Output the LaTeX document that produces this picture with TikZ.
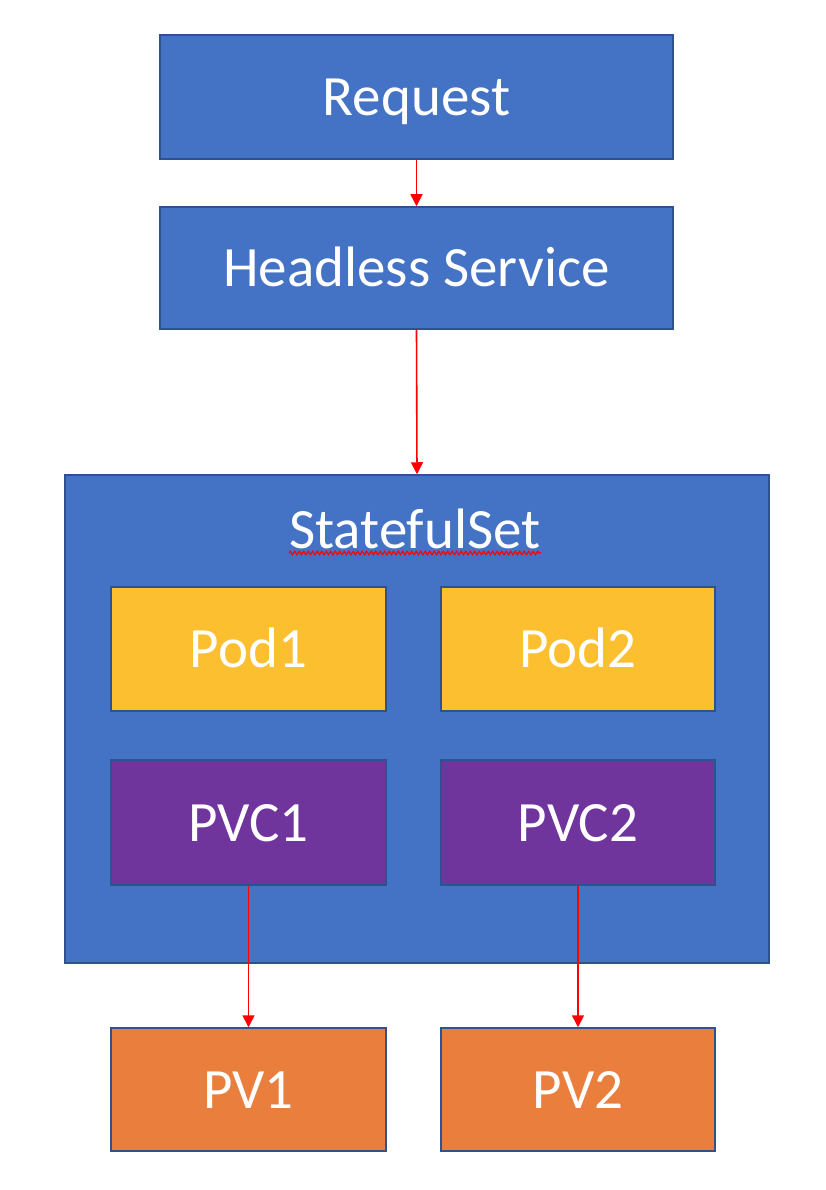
\documentclass[tikz,border=0pt]{standalone}
\usepackage{fontspec}
\setmainfont{Carlito}
\usetikzlibrary{arrows.meta,decorations.pathmorphing}
\definecolor{boxblue}{HTML}{4472C4}
\definecolor{edgeblue}{HTML}{2F528F}
\definecolor{podyellow}{HTML}{FBBF2F}
\definecolor{pvcpurple}{HTML}{6F359D}
\definecolor{pvorange}{HTML}{E97E3D}
\begin{document}
\begin{tikzpicture}[x=1pt,y=-1pt,
  box/.style={draw=edgeblue, line width=1.5pt, text=white, inner sep=0pt,
    text height=37pt, text depth=0pt,
    font=\fontsize{57}{68}\selectfont},
  bluebox/.style={box, fill=boxblue},
  podbox/.style={box, fill=podyellow},
  pvcbox/.style={box, fill=pvcpurple},
  pvbox/.style={box, fill=pvorange},
  arr/.style={draw=red, line width=1.6pt, -{Triangle[length=12pt,width=12pt]}}]
\useasboundingbox (0,0) rectangle (826,1190);
\fill[white] (0,0) rectangle (826,1190);

\node[bluebox, minimum width=513pt, minimum height=124pt] (req) at (416.5,97) {Request};
\node[bluebox, minimum width=513pt, minimum height=122pt] (hs) at (416.5,268) {Headless Service};
\node[bluebox, minimum width=704pt, minimum height=488pt] (ss) at (417,719) {};
\node[text=white, inner sep=0pt, anchor=base, font=\fontsize{57}{68}\selectfont] (sslabel) at (415,548) {StatefulSet};
\draw[red, line width=1.1pt, decorate, decoration={zigzag,amplitude=1.8pt,segment length=4.5pt}]
  ([yshift=-5pt]sslabel.base west) -- ([yshift=-5pt]sslabel.base east);

\node[podbox, minimum width=275pt, minimum height=124pt] (pod1) at (248.5,649) {Pod1};
\node[podbox, minimum width=274pt, minimum height=124pt] (pod2) at (578,649) {Pod2};
\node[pvcbox, minimum width=275pt, minimum height=125pt] (pvc1) at (248.5,822.5) {PVC1};
\node[pvcbox, minimum width=274pt, minimum height=125pt] (pvc2) at (578,822.5) {PVC2};
\node[pvbox, minimum width=275pt, minimum height=123pt] (pv1) at (248.5,1089.5) {PV1};
\node[pvbox, minimum width=274pt, minimum height=123pt] (pv2) at (578,1089.5) {PV2};

\draw[arr] (req.south) -- (hs.north);
\draw[arr] (hs.south) -- (ss.north);
\draw[arr] (pvc1.south) -- (pv1.north);
\draw[arr] (pvc2.south) -- (pv2.north);
\end{tikzpicture}
\end{document}
